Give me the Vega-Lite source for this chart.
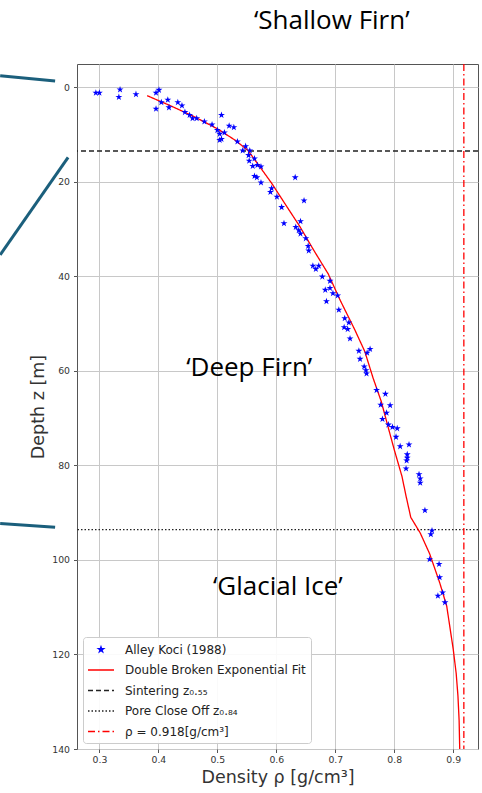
{
  "$schema": "https://vega.github.io/schema/vega-lite/v6.json",
  "width": 401,
  "height": 685,
  "autosize": {"type": "none"},
  "padding": {"left": 77, "top": 64, "right": 4, "bottom": 44},
  "background": "white",
  "config": {
    "view": {"stroke": "#555555", "strokeWidth": 1},
    "axis": {
      "grid": true,
      "gridColor": "#c8c8c8",
      "gridWidth": 1,
      "domain": false,
      "tickSize": 3.5,
      "tickColor": "#555555",
      "labelFont": "DejaVu Sans",
      "labelFontSize": 9.3,
      "labelColor": "#333333",
      "titleFont": "DejaVu Sans",
      "titleFontSize": 17.5,
      "titleFontWeight": "normal",
      "titleColor": "#333333"
    },
    "legend": {
      "orient": "bottom-left",
      "offset": 6,
      "padding": 5,
      "rowPadding": 6.5,
      "fillColor": "rgba(255,255,255,0.9)",
      "strokeColor": "#cccccc",
      "cornerRadius": 3,
      "labelFont": "DejaVu Sans",
      "labelFontSize": 12,
      "labelColor": "#222222",
      "labelLimit": 400,
      "symbolSize": 169,
      "symbolOffset": 5.5,
      "labelOffset": 16.5,
      "symbolStrokeWidth": 1.4
    }
  },
  "datasets": {
    "alley": [
      {"rho": 0.294, "z": 1.2}, {"rho": 0.300, "z": 1.2}, {"rho": 0.335, "z": 0.5}, {"rho": 0.333, "z": 2.1},
      {"rho": 0.362, "z": 1.5}, {"rho": 0.396, "z": 1.2}, {"rho": 0.401, "z": 0.6}, {"rho": 0.396, "z": 4.6},
      {"rho": 0.405, "z": 3.2}, {"rho": 0.416, "z": 2.7}, {"rho": 0.418, "z": 4.3}, {"rho": 0.433, "z": 3.2},
      {"rho": 0.440, "z": 3.9}, {"rho": 0.445, "z": 5.3}, {"rho": 0.453, "z": 5.9}, {"rho": 0.458, "z": 6.6},
      {"rho": 0.465, "z": 6.6}, {"rho": 0.478, "z": 7.3}, {"rho": 0.491, "z": 7.9}, {"rho": 0.507, "z": 5.9},
      {"rho": 0.500, "z": 9.1}, {"rho": 0.504, "z": 9.9}, {"rho": 0.507, "z": 11.0}, {"rho": 0.504, "z": 11.2},
      {"rho": 0.512, "z": 9.6}, {"rho": 0.520, "z": 8.2}, {"rho": 0.528, "z": 8.5}, {"rho": 0.534, "z": 11.5},
      {"rho": 0.548, "z": 12.5}, {"rho": 0.543, "z": 13.4}, {"rho": 0.555, "z": 13.4}, {"rho": 0.553, "z": 14.4},
      {"rho": 0.563, "z": 15.1}, {"rho": 0.554, "z": 15.6}, {"rho": 0.560, "z": 16.7}, {"rho": 0.568, "z": 16.5},
      {"rho": 0.574, "z": 16.8}, {"rho": 0.563, "z": 18.8}, {"rho": 0.567, "z": 19.1}, {"rho": 0.574, "z": 20.2},
      {"rho": 0.592, "z": 21.4}, {"rho": 0.590, "z": 22.2}, {"rho": 0.601, "z": 23.2}, {"rho": 0.632, "z": 19.1},
      {"rho": 0.609, "z": 25.4}, {"rho": 0.647, "z": 24.0}, {"rho": 0.613, "z": 28.8}, {"rho": 0.641, "z": 28.4},
      {"rho": 0.633, "z": 29.6}, {"rho": 0.638, "z": 30.3}, {"rho": 0.641, "z": 31.0}, {"rho": 0.650, "z": 32.0},
      {"rho": 0.654, "z": 33.6}, {"rho": 0.655, "z": 34.6}, {"rho": 0.662, "z": 37.8}, {"rho": 0.667, "z": 38.5},
      {"rho": 0.672, "z": 37.8}, {"rho": 0.678, "z": 40.1}, {"rho": 0.691, "z": 41.0}, {"rho": 0.683, "z": 42.9},
      {"rho": 0.691, "z": 42.5}, {"rho": 0.696, "z": 43.6}, {"rho": 0.685, "z": 45.3}, {"rho": 0.704, "z": 44.1},
      {"rho": 0.706, "z": 47.1}, {"rho": 0.716, "z": 48.9}, {"rho": 0.723, "z": 49.8}, {"rho": 0.715, "z": 50.8},
      {"rho": 0.721, "z": 51.2}, {"rho": 0.725, "z": 53.2}, {"rho": 0.740, "z": 55.8}, {"rho": 0.759, "z": 55.4},
      {"rho": 0.754, "z": 56.2}, {"rho": 0.742, "z": 57.5}, {"rho": 0.749, "z": 59.1}, {"rho": 0.752, "z": 59.9},
      {"rho": 0.753, "z": 60.6}, {"rho": 0.770, "z": 64.1}, {"rho": 0.785, "z": 64.9}, {"rho": 0.777, "z": 67.2},
      {"rho": 0.793, "z": 67.3}, {"rho": 0.787, "z": 68.9}, {"rho": 0.780, "z": 70.2}, {"rho": 0.790, "z": 71.4},
      {"rho": 0.797, "z": 71.9}, {"rho": 0.805, "z": 72.2}, {"rho": 0.803, "z": 74.0}, {"rho": 0.810, "z": 76.0},
      {"rho": 0.825, "z": 75.6}, {"rho": 0.822, "z": 77.7}, {"rho": 0.822, "z": 78.4}, {"rho": 0.821, "z": 79.0},
      {"rho": 0.820, "z": 80.7}, {"rho": 0.842, "z": 81.9}, {"rho": 0.844, "z": 82.8}, {"rho": 0.844, "z": 83.7},
      {"rho": 0.852, "z": 89.5}, {"rho": 0.864, "z": 93.8}, {"rho": 0.862, "z": 94.6}, {"rho": 0.860, "z": 99.9},
      {"rho": 0.876, "z": 100.9}, {"rho": 0.877, "z": 103.7}, {"rho": 0.882, "z": 106.9}, {"rho": 0.874, "z": 107.6},
      {"rho": 0.886, "z": 109.0}
    ],
    "fit": [
      {"rho": 0.381, "z": 1.8}, {"rho": 0.420, "z": 3.9}, {"rho": 0.460, "z": 6.2}, {"rho": 0.500, "z": 8.8},
      {"rho": 0.530, "z": 11.2}, {"rho": 0.552, "z": 13.4}, {"rho": 0.570, "z": 16.5}, {"rho": 0.592, "z": 20.3},
      {"rho": 0.618, "z": 25.3}, {"rho": 0.640, "z": 29.5}, {"rho": 0.663, "z": 34.4}, {"rho": 0.688, "z": 39.5},
      {"rho": 0.708, "z": 45.0}, {"rho": 0.733, "z": 51.3}, {"rho": 0.750, "z": 55.9}, {"rho": 0.764, "z": 61.5},
      {"rho": 0.778, "z": 66.5}, {"rho": 0.790, "z": 72.1}, {"rho": 0.800, "z": 76.7}, {"rho": 0.813, "z": 82.3},
      {"rho": 0.820, "z": 86.5}, {"rho": 0.828, "z": 91.0}, {"rho": 0.844, "z": 94.3}, {"rho": 0.860, "z": 98.7},
      {"rho": 0.877, "z": 104.8}, {"rho": 0.889, "z": 109.8}, {"rho": 0.900, "z": 118.9}, {"rho": 0.905, "z": 124.0},
      {"rho": 0.908, "z": 128.8}, {"rho": 0.910, "z": 134.0}, {"rho": 0.911, "z": 140.0}
    ],
    "hlines": [
      {"z": 13.5, "series": "Sintering z₀.₅₅"},
      {"z": 93.6, "series": "Pore Close Off z₀.₈₄"}
    ],
    "vlines": [
      {"rho": 0.918, "series": "ρ = 0.918[g/cm³]"}
    ],
    "labels": [
      {"rho": 0.694, "z": -12.4, "text": "‘Shallow Firn’"},
      {"rho": 0.554, "z": 61.2, "text": "‘Deep Firn’"},
      {"rho": 0.6025, "z": 107.5, "text": "‘Glacial Ice’"}
    ],
    "callouts": [
      {"rho": 0.1317, "z": -2.4, "rho2": 0.2249, "z2": -1.3},
      {"rho": 0.2469, "z": 14.85, "rho2": 0.1317, "z2": 35.5},
      {"rho": 0.1317, "z": 92.3, "rho2": 0.2249, "z2": 93.1}
    ]
  },
  "layer": [
    {
      "data": {"name": "hlines"},
      "mark": {"type": "rule", "strokeWidth": 1.3},
      "encoding": {
        "y": {"field": "z", "type": "quantitative"},
        "color": {"field": "series", "type": "nominal"},
        "strokeDash": {"field": "series", "type": "nominal"}
      }
    },
    {
      "data": {"name": "vlines"},
      "mark": {"type": "rule", "strokeWidth": 1.3},
      "encoding": {
        "x": {"field": "rho", "type": "quantitative"},
        "color": {"field": "series", "type": "nominal"},
        "strokeDash": {"field": "series", "type": "nominal"}
      }
    },
    {
      "data": {"name": "fit"},
      "transform": [{"calculate": "'Double Broken Exponential Fit'", "as": "series"}],
      "mark": {"type": "line", "strokeWidth": 1.3},
      "encoding": {
        "x": {"field": "rho", "type": "quantitative"},
        "y": {"field": "z", "type": "quantitative"},
        "order": {"field": "z", "type": "quantitative"},
        "color": {"field": "series", "type": "nominal"},
        "strokeDash": {"field": "series", "type": "nominal"}
      }
    },
    {
      "data": {"name": "alley"},
      "transform": [{"calculate": "'Alley Koci (1988)'", "as": "series"}],
      "mark": {"type": "point", "filled": true, "opacity": 1, "size": 330, "strokeWidth": 0.5},
      "encoding": {
        "x": {
          "field": "rho", "type": "quantitative",
          "scale": {"domain": [0.262, 0.942], "nice": false, "zero": false},
          "axis": {"title": "Density ρ [g/cm³]", "values": [0.3, 0.4, 0.5, 0.6, 0.7, 0.8, 0.9], "format": ".1f", "labelPadding": 3, "titlePadding": 4}
        },
        "y": {
          "field": "z", "type": "quantitative",
          "scale": {"domain": [-4.9, 140], "nice": false, "zero": false, "reverse": true},
          "axis": {"title": "Depth z [m]", "values": [0, 20, 40, 60, 80, 100, 120, 140], "labelPadding": 4, "titlePadding": 4}
        },
        "color": {
          "field": "series", "type": "nominal",
          "scale": {
            "domain": ["Alley Koci (1988)", "Double Broken Exponential Fit", "Sintering z₀.₅₅", "Pore Close Off z₀.₈₄", "ρ = 0.918[g/cm³]"],
            "range": ["#0000ff", "#ff0000", "#222222", "#222222", "#ff0000"]
          },
          "legend": {
            "title": null,
            "encode": {
              "symbols": {
                "update": {
                  "stroke": {"scale": "color", "field": "value"},
                  "fill": {"scale": "color", "field": "value"},
                  "strokeWidth": {"value": 1.3},
                  "opacity": {"value": 1}
                }
              }
            }
          }
        },
        "shape": {
          "field": "series", "type": "nominal",
          "scale": {
            "domain": ["Alley Koci (1988)", "Double Broken Exponential Fit", "Sintering z₀.₅₅", "Pore Close Off z₀.₈₄", "ρ = 0.918[g/cm³]"],
            "range": [
              "M0,-0.4L0.09,-0.124L0.38,-0.124L0.145,0.047L0.235,0.324L0,0.153L-0.235,0.324L-0.145,0.047L-0.38,-0.124L-0.09,-0.124Z",
              "M-2,0L2,0", "M-2,0L2,0", "M-2,0L2,0", "M-2,0L2,0"
            ]
          },
          "legend": {"title": null}
        },
        "strokeDash": {
          "field": "series", "type": "nominal",
          "scale": {
            "domain": ["Alley Koci (1988)", "Double Broken Exponential Fit", "Sintering z₀.₅₅", "Pore Close Off z₀.₈₄", "ρ = 0.918[g/cm³]"],
            "range": [[1, 0], [1, 0], [5, 3], [1.5, 2], [7, 3, 1.5, 3]]
          },
          "legend": {"title": null}
        }
      }
    },
    {
      "data": {"name": "callouts"},
      "mark": {"type": "rule", "color": "#1b5f7c", "strokeWidth": 3},
      "encoding": {
        "x": {"field": "rho", "type": "quantitative"},
        "y": {"field": "z", "type": "quantitative"},
        "x2": {"field": "rho2"},
        "y2": {"field": "z2"}
      }
    },
    {
      "data": {"name": "labels"},
      "mark": {"type": "text", "font": "Open Sans", "fontSize": 26, "color": "#000000", "align": "center", "baseline": "alphabetic"},
      "encoding": {
        "x": {"field": "rho", "type": "quantitative"},
        "y": {"field": "z", "type": "quantitative"},
        "text": {"field": "text"}
      }
    }
  ]
}
